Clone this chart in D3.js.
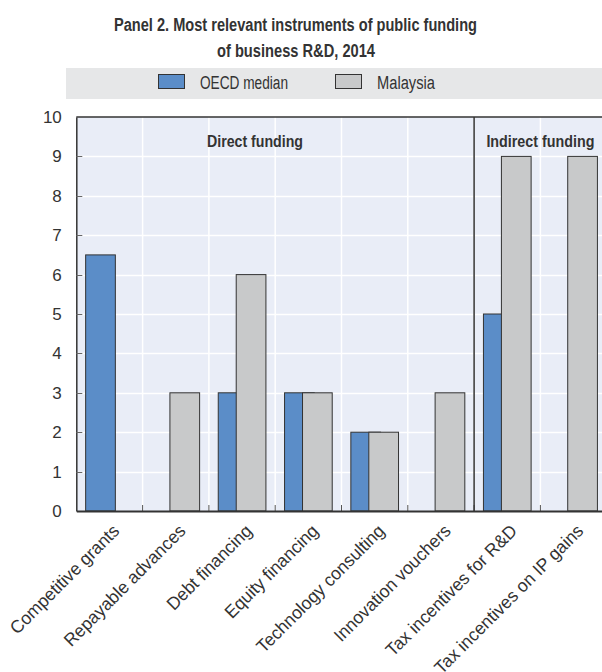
<!DOCTYPE html>
<html>
<head>
<meta charset="utf-8">
<script src="https://cdn.jsdelivr.net/npm/d3@7"></script>
<style>
  html, body { margin: 0; padding: 0; background: #ffffff; }
  svg { display: block; font-family: "Liberation Sans", Arial, sans-serif; }
</style>
</head>
<body>
<svg id="chart" width="602" height="672"></svg>
<script>
// Funding instruments and their relevance scores
const categories = [
  "Competitive grants", "Repayable advances", "Debt financing", "Equity financing",
  "Technology consulting", "Innovation vouchers", "Tax incentives for R&D", "Tax incentives on IP gains"
];
const oecdMedian = [6.5, 0, 3, 3, 2, 0, 5, 0];
const malaysia   = [0, 3, 6, 3, 2, 3, 9, 9];
const seriesNames = ["OECD median", "Malaysia"];
const yTicks = [0, 1, 2, 3, 4, 5, 6, 7, 8, 9, 10];
const groupLabels = ["Direct funding", "Indirect funding"];
const titleLines = ["Panel 2. Most relevant instruments of public funding", "of business R&D, 2014"];

const svg = d3.select("#chart");
const plotLeft = 76.3, plotRight = 606.7, plotTop = 117, plotBottom = 511;
const ink = "#333333";

const x = d3.scaleBand().domain(categories).range([plotLeft, plotRight]).padding(0);
const y = d3.scaleLinear().domain([0, 10]).range([plotBottom, plotTop]);
const bw = x.bandwidth();

// condensed-looking text: squeeze natural width to a target width
function squeeze(sel, w) {
  sel.attr("textLength", w).attr("lengthAdjust", "spacingAndGlyphs");
}

// Title
svg.append("text").attr("x", 295.5).attr("y", 31).attr("text-anchor", "middle")
  .attr("font-weight", "bold").attr("font-size", 18).attr("fill", ink)
  .text(titleLines[0]).call(squeeze, 363);
svg.append("text").attr("x", 296).attr("y", 56.5).attr("text-anchor", "middle")
  .attr("font-weight", "bold").attr("font-size", 18).attr("fill", ink)
  .text(titleLines[1]).call(squeeze, 158);

// Legend band
svg.append("rect").attr("x", 66).attr("y", 68).attr("width", 540).attr("height", 31).attr("fill", "#e6e7e8");
const legendItems = [
  { name: seriesNames[0], color: "#5b8dc8", sx: 158, w: 88 },
  { name: seriesNames[1], color: "#c8c9ca", sx: 335, w: 58 }
];
legendItems.forEach(d => {
  svg.append("rect").attr("x", d.sx + 0.5).attr("y", 74.5).attr("width", 26).attr("height", 14)
    .attr("fill", d.color).attr("stroke", ink).attr("stroke-width", 1);
  svg.append("text").attr("x", d.sx + 42).attr("y", 88.5).attr("font-size", 18).attr("fill", ink)
    .text(d.name).call(squeeze, d.w);
});

// Plot background
svg.append("rect").attr("x", plotLeft).attr("y", plotTop)
  .attr("width", plotRight - plotLeft).attr("height", plotBottom - plotTop)
  .attr("fill", "#e9edf7");

// Horizontal gridlines
svg.append("g").selectAll("line").data(yTicks.filter(t => t > 0 && t < 10)).join("line")
  .attr("x1", plotLeft).attr("x2", plotRight)
  .attr("y1", d => Math.round(y(d)) + 0.5).attr("y2", d => Math.round(y(d)) + 0.5)
  .attr("stroke", "#ffffff").attr("stroke-width", 1.5);

// Vertical gridlines at category boundaries, with short ticks at the base
const boundaries = categories.slice(1).map(c => x(c));
svg.append("g").selectAll("line").data(boundaries).join("line")
  .attr("x1", d => d).attr("x2", d => d).attr("y1", plotTop).attr("y2", plotBottom)
  .attr("stroke", "#ffffff").attr("stroke-width", 1.5);
svg.append("g").selectAll("line").data(boundaries).join("line")
  .attr("x1", d => d).attr("x2", d => d).attr("y1", plotBottom - 6).attr("y2", plotBottom)
  .attr("stroke", "#555").attr("stroke-width", 1);

// Bars: OECD median first, Malaysia overlapping on top
const oecdData = categories.map((c, i) => ({ c, v: oecdMedian[i] })).filter(d => d.v > 0);
const myData = categories.map((c, i) => ({ c, v: malaysia[i] })).filter(d => d.v > 0);
const barW = bw * 0.448;

svg.append("g").selectAll("rect").data(oecdData).join("rect")
  .attr("x", d => x(d.c) + bw * 0.141).attr("width", barW)
  .attr("y", d => y(d.v)).attr("height", d => y(0) - y(d.v))
  .attr("fill", "#5b8dc8").attr("stroke", ink).attr("stroke-width", 1);

svg.append("g").selectAll("rect").data(myData).join("rect")
  .attr("x", d => x(d.c) + bw * 0.412).attr("width", barW)
  .attr("y", d => y(d.v)).attr("height", d => y(0) - y(d.v))
  .attr("fill", "#c8c9ca").attr("stroke", ink).attr("stroke-width", 1);

// Divider between direct and indirect funding
const divX = x("Tax incentives for R&D");
svg.append("line").attr("x1", divX).attr("x2", divX).attr("y1", plotTop).attr("y2", plotBottom)
  .attr("stroke", ink).attr("stroke-width", 1.5);

// Group labels
svg.append("text").attr("x", 255).attr("y", 147).attr("text-anchor", "middle")
  .attr("font-weight", "bold").attr("font-size", 16).attr("fill", ink)
  .text(groupLabels[0]).call(squeeze, 96);
svg.append("text").attr("x", (divX + plotRight) / 2).attr("y", 147).attr("text-anchor", "middle")
  .attr("font-weight", "bold").attr("font-size", 16).attr("fill", ink)
  .text(groupLabels[1]).call(squeeze, 108);

// Top frame line
svg.append("line").attr("x1", plotLeft).attr("x2", plotRight).attr("y1", plotTop).attr("y2", plotTop)
  .attr("stroke", ink).attr("stroke-width", 1.5);

// Y axis
const yAxis = svg.append("g").attr("transform", `translate(${plotLeft},0)`)
  .call(d3.axisLeft(y).tickValues(yTicks).tickSize(0).tickPadding(14.5));
yAxis.select(".domain").attr("stroke", ink).attr("stroke-width", 1.5);
yAxis.selectAll("text").attr("font-size", 17).attr("fill", ink)
  .attr("font-family", "'Liberation Sans', Arial, sans-serif");
svg.append("g").selectAll("line").data(yTicks.filter(t => t > 0 && t < 10)).join("line")
  .attr("x1", plotLeft).attr("x2", plotLeft + 6)
  .attr("y1", d => Math.round(y(d)) + 0.5).attr("y2", d => Math.round(y(d)) + 0.5)
  .attr("stroke", "#666").attr("stroke-width", 1);

// X axis with rotated category labels
const xAxis = svg.append("g").attr("transform", `translate(0,${plotBottom})`)
  .call(d3.axisBottom(x).tickSize(0).tickPadding(0));
xAxis.select(".domain").attr("stroke", ink).attr("stroke-width", 2);
const xLabels = xAxis.selectAll("text")
  .attr("font-size", 18).attr("fill", ink)
  .attr("font-family", "'Liberation Sans', Arial, sans-serif")
  .attr("text-anchor", "end").attr("dy", "0").attr("y", 0);
// condense the labels uniformly so the longest-looking label matches its drawn length
const refLen = xLabels.filter(d => d === categories[0]).node().getComputedTextLength();
const k = 146 / refLen;
xLabels.attr("transform", `translate(11,21) rotate(-45) scale(${k},1)`);
</script>
</body>
</html>
